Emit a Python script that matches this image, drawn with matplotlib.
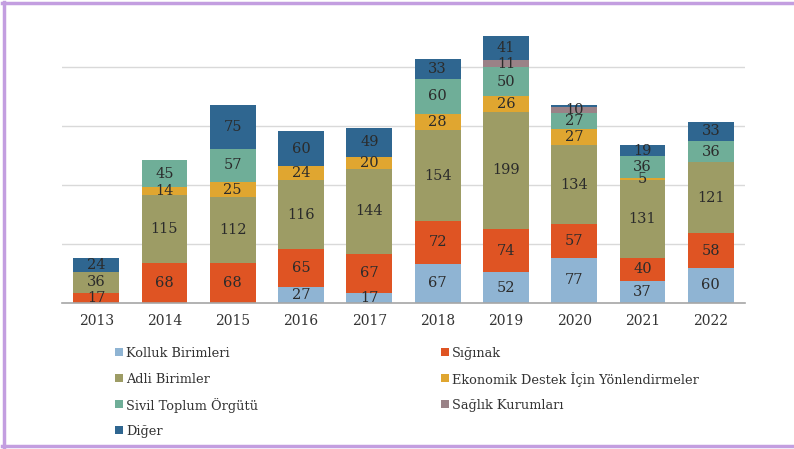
import matplotlib
matplotlib.use("Agg")
import matplotlib.pyplot as plt
from matplotlib.patches import Rectangle
from matplotlib.lines import Line2D
import numpy as np

years = ["2013", "2014", "2015", "2016", "2017", "2018", "2019", "2020", "2021", "2022"]
series_names = ["Kolluk Birimleri", "Sığınak", "Adli Birimler",
                "Ekonomik Destek İçin Yönlendirmeler", "Sivil Toplum Örgütü",
                "Sağlık Kurumları", "Diğer"]
kolluk   = [0, 0, 0, 27, 17, 67, 52, 77, 37, 60]
siginak  = [17, 68, 68, 65, 67, 72, 74, 57, 40, 58]
adli     = [36, 115, 112, 116, 144, 154, 199, 134, 131, 121]
ekonomik = [0, 14, 25, 24, 20, 28, 26, 27, 5, 0]
sivil    = [0, 45, 57, 0, 0, 60, 50, 27, 36, 36]
saglik   = [0, 0, 0, 0, 0, 0, 11, 10, 0, 0]
diger    = [24, 0, 75, 60, 49, 33, 41, 5, 19, 33]
hidden_labels = {(6, 7)}  # Diğer 2020 not labelled in reference

series = [kolluk, siginak, adli, ekonomik, sivil, saglik, diger]
colors = ["#8fb4d3", "#df5423", "#9d9c65", "#e0a630", "#6fae98", "#9a8287", "#2f6690"]

W, H = 794, 449
plt.rcParams['font.family'] = ['DejaVu Serif']
fig = plt.figure(figsize=(W/100, H/100), dpi=100)
ax = fig.add_axes([62/W, 1-303/H, 683/W, 294.5/H])

x = np.arange(len(years))
bottom = np.zeros(len(years))
for si, (vals, col) in enumerate(zip(series, colors)):
    vals = np.array(vals, dtype=float)
    bars = ax.bar(x, vals, 0.67, bottom=bottom, color=col, zorder=2)
    for i, (b, v) in enumerate(zip(bars, vals)):
        if v > 0 and (si, i) not in hidden_labels:
            ax.text(b.get_x() + b.get_width()/2, bottom[i] + v/2, f"{int(v)}",
                    ha="center", va="center", fontsize=10.5, color="#2b2b2b", zorder=3)
    bottom += vals

ax.set_xlim(-0.5, len(years) - 0.5)
ax.set_ylim(0, 500)
ax.set_yticks([100, 200, 300, 400])
ax.yaxis.grid(True, color="#d9d9d9", linewidth=1, zorder=0)
ax.set_yticklabels([])
ax.tick_params(axis="y", length=0)
ax.set_xticks(x)
ax.set_xticklabels(years, fontsize=10, color="#333333")
ax.tick_params(axis="x", length=0, pad=8)
for s in ["top", "right", "left"]:
    ax.spines[s].set_visible(False)
ax.spines["bottom"].set_color("#a6a6a6")
ax.spines["bottom"].set_linewidth(1.2)

# manual legend: two columns, rows aligned
col_x = [115, 441]
row_y = [352, 378, 404, 430]
layout = [(0, 0, 0), (2, 0, 1), (4, 0, 2), (6, 0, 3), (1, 1, 0), (3, 1, 1), (5, 1, 2)]
for si, c, r in layout:
    mx, my = col_x[c], row_y[r]
    fig.add_artist(Rectangle((mx/W, 1-(my+4)/H), 8/W, 8/H, transform=fig.transFigure,
                             facecolor=colors[si], edgecolor="none"))
    fig.text((mx+11)/W, 1-my/H, series_names[si], ha="left", va="center_baseline",
             fontsize=9.3, color="#333333")

# purple frame (left, top, bottom)
fc = "#c39ee0"
fig.add_artist(Line2D([3.5/W, 3.5/W], [2/H, 1-2/H], transform=fig.transFigure, color=fc, lw=2.5))
fig.add_artist(Line2D([2/W, 1], [1-2.5/H, 1-2.5/H], transform=fig.transFigure, color=fc, lw=2.5))
fig.add_artist(Line2D([2/W, 1], [3.5/H, 3.5/H], transform=fig.transFigure, color=fc, lw=2.5))

fig.savefig("out.png", dpi=100)
